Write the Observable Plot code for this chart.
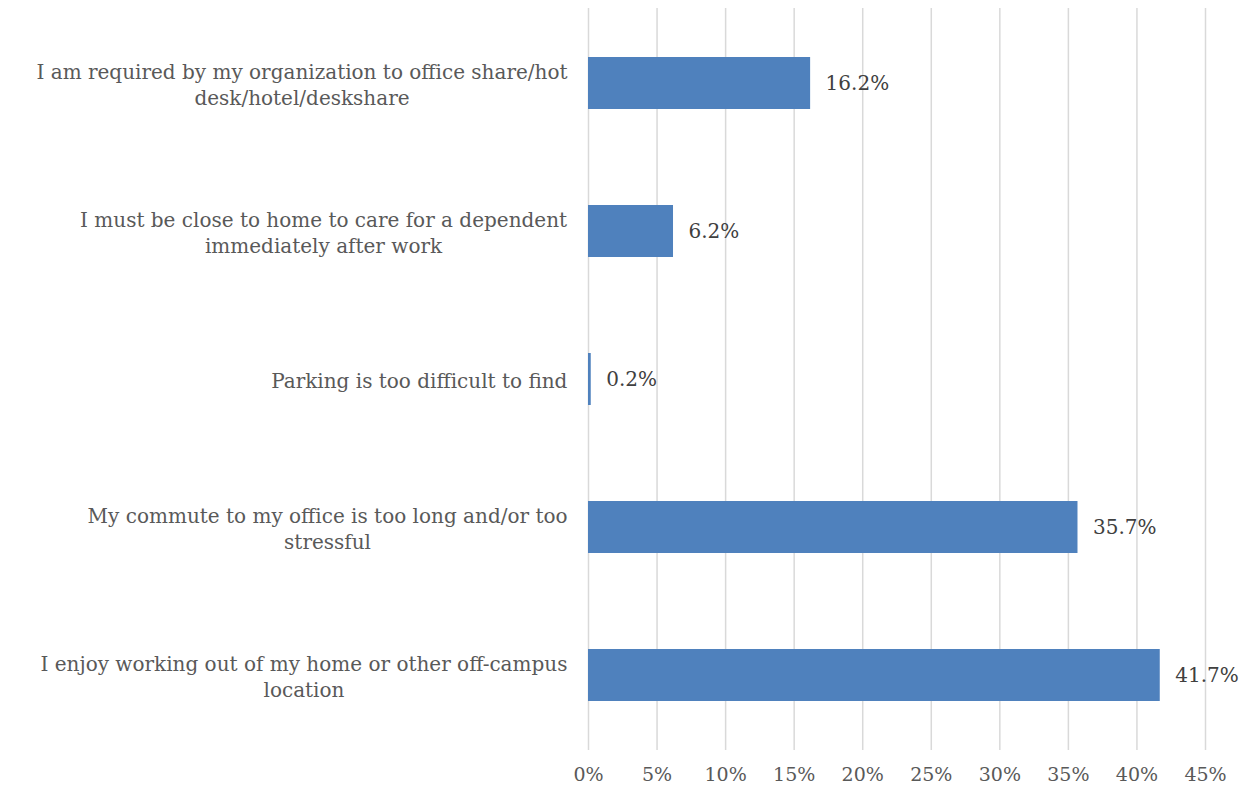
<!DOCTYPE html>
<html><head><meta charset="utf-8">
<script src="https://cdn.jsdelivr.net/npm/d3@7"></script>
<script src="https://cdn.jsdelivr.net/npm/@observablehq/plot@0.6"></script>
<style>body{margin:0;background:#fff}</style>
</head><body><div id="chart"></div>
<script>
const categories = [
  "I am required by my organization to office share/hot\ndesk/hotel/deskshare",
  "I must be close to home to care for a dependent\nimmediately after work",
  "Parking is too difficult to find",
  "My commute to my office is too long and/or too\nstressful",
  "I enjoy working out of my home or other off-campus\nlocation"
];
const values = [16.2, 6.2, 0.2, 35.7, 41.7];
const xTicks = [0, 5, 10, 15, 20, 25, 30, 35, 40, 45];

const data = categories.map((c, i) => ({category: c, value: values[i]}));

const chart = Plot.plot({
  width: 1248, height: 793,
  marginTop: 8, marginBottom: 43, marginLeft: 588, marginRight: 43,
  style: {fontFamily: "'DejaVu Serif', serif", fontSize: "20px", color: "#595959", background: "#fff"},
  x: {domain: [0, 45], label: null},
  y: {domain: categories, paddingInner: 0.65, paddingOuter: 0.316, label: null},
  marks: [
    Plot.gridX(xTicks, {stroke: "#d9d9d9", strokeOpacity: 1, strokeWidth: 1.5}),
    Plot.barX(data, {x: "value", y: "category", fill: "#4f81bd"}),
    Plot.text(data, {x: "value", y: "category", text: d => d.value.toFixed(1) + "%", dx: 15, textAnchor: "start", fill: "#404040", fontSize: 20}),
    Plot.axisX(xTicks, {tickSize: 0, tickPadding: 17, tickFormat: d => d + "%", label: null, fontSize: 19}),
    Plot.axisY({tickSize: 0, tickPadding: 21, label: null, lineHeight: 1.3, fontSize: 20})
  ]
});
document.getElementById("chart").append(chart);

// center each multi-line y label block (lines centered on each other, block right-aligned)
d3.select(chart).selectAll('g[aria-label="y-axis tick label"] text').each(function() {
  const w = this.getBBox().width;
  const t = this.getAttribute("transform") || "";
  this.setAttribute("text-anchor", "middle");
  this.setAttribute("transform", t + ` translate(${-w / 2},0)`);
});
</script>
</body></html>
